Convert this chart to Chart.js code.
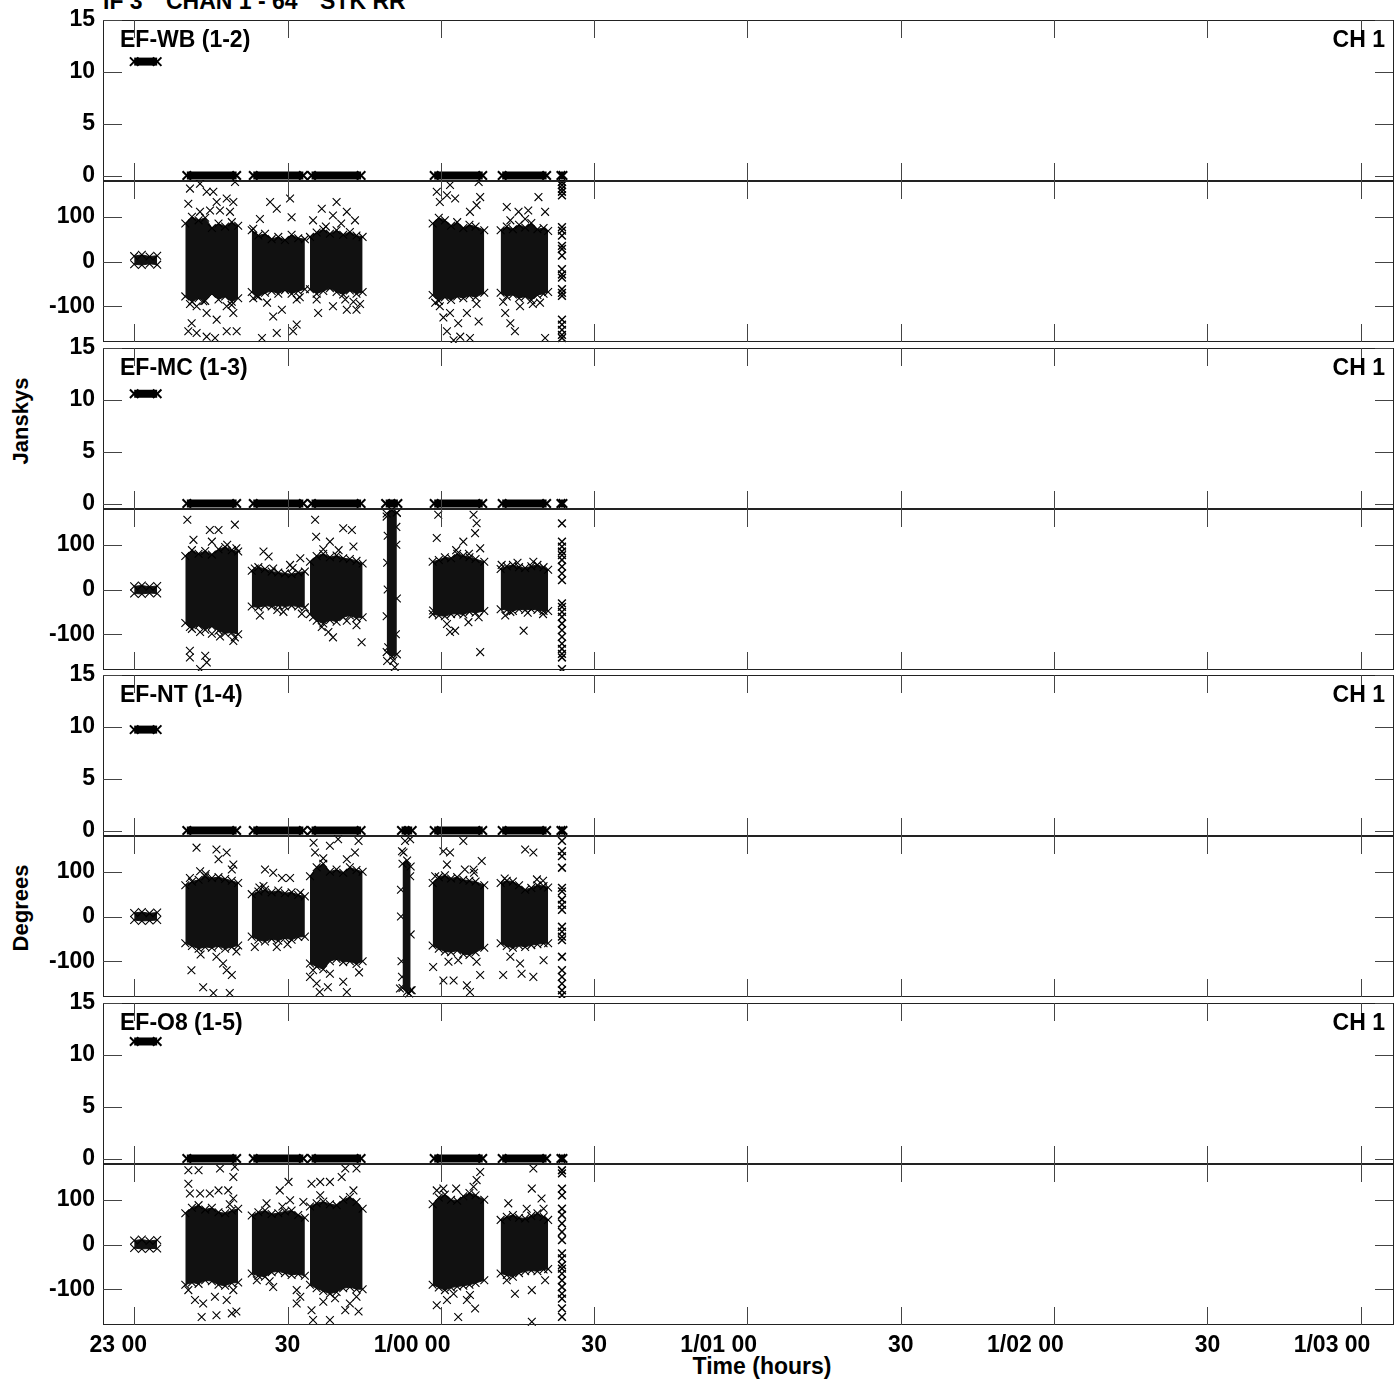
<!DOCTYPE html>
<html><head><meta charset="utf-8">
<script src="https://cdn.jsdelivr.net/npm/chart.js@4.4.1/dist/chart.umd.min.js"></script>
<style>
html,body{margin:0;padding:0;background:#fff;}
body{width:1394px;height:1382px;position:relative;overflow:hidden;font-family:"Liberation Sans",Arial,sans-serif;color:#000;}
canvas{position:absolute;left:0;}
.t{position:absolute;white-space:pre;font-size:23px;line-height:23px;font-weight:bold;}
.v{position:absolute;white-space:pre;font-size:22px;line-height:22px;font-weight:bold;transform:translate(-50%,-50%) rotate(-90deg);}
</style></head><body>
<div class="t" style="left:103px;top:-10px">IF 3</div>
<div class="t" style="left:166px;top:-10px">CHAN 1 - 64</div>
<div class="t" style="left:320px;top:-10px">STK RR</div>
<div class="v" style="left:21px;top:421px">Janskys</div>
<div class="v" style="left:21px;top:908px">Degrees</div>
<div class="t" style="left:762px;top:1355px;transform:translateX(-50%)">Time (hours)</div>
<script>
// ---------- axes / labels ----------
const baselineNames = ['EF-WB (1-2)', 'EF-MC (1-3)', 'EF-NT (1-4)', 'EF-O8 (1-5)'];
const channelLabel = 'CH 1';
const xTickValues = [0, 30, 60, 90, 120, 150, 180, 210, 240];   // minutes after 23:00
const xTickLabels = ['23 00', '30', '1/00 00', '30', '1/01 00', '30', '1/02 00', '30', '1/03 00'];
const ampTicks = [0, 5, 10, 15];
const phaseTicks = [-100, 0, 100];

// ---------- times (min after 23:00) of the envelope of each scan's dense phase cloud ----------
const envCal = [0, 1.5, 3, 4.5];
const envA = [10.0, 11.3, 12.6, 13.9, 15.2, 16.5, 17.8, 19.1, 20.35];
const envB = [23.0, 24.3, 25.6, 26.9, 28.2, 29.5, 30.8, 32.1, 33.4];
const envC = [34.4, 35.7, 37.0, 38.3, 39.6, 40.9, 42.2, 43.5, 44.7];
const envE = [58.4, 59.6, 60.8, 62.0, 63.2, 64.4, 65.6, 66.8, 68.5];
const envF = [71.7, 72.9, 74.1, 75.3, 76.5, 77.7, 78.9, 80.1, 81.0];
const envD_MC = [49.4, 50.4, 51.4];
const envD_NT = [52.5, 53.4, 54.1];

// ---------- EF-WB (1-2) ----------
const wbScanStart = [0, 10.3, 23.3, 34.7, 58.7, 72.0, 83.5];
const wbScanEnd   = [4.5, 20.05, 33.1, 44.4, 68.2, 80.7, 83.9];
const wbScanAmp   = [11.0, 0.05, 0.05, 0.05, 0.05, 0.05, 0.05];
const wbBandT  = [envCal, envA, envB, envC, envE, envF];
const wbBandHi = [[12,15,11,13],[85,100,92,98,75,85,78,88,80],[70,58,62,50,55,48,60,52,50],[55,65,72,62,70,60,66,58,55],[85,98,92,80,88,75,82,78,70],[70,78,72,82,76,86,72,75,68]];
const wbBandLo = [[-6,-8,-5,-7],[-78,-90,-82,-88,-72,-85,-78,-90,-82],[-68,-78,-70,-66,-72,-64,-72,-66,-62],[-62,-72,-66,-60,-68,-74,-65,-72,-68],[-75,-88,-80,-86,-78,-82,-76,-80,-70],[-70,-78,-74,-82,-78,-86,-75,-72,-68]];
const wbOutliers = [[10.92,163],[12.88,174],[14.18,156],[15.49,156],[10.59,129],[16.14,133],[18.1,141],[19.4,133],[12.88,111],[14.84,114],[16.79,114],[18.75,111],[19.73,178],[10.92,-95],[12.22,-100],[14.18,-115],[16.14,-130],[18.1,-100],[19.4,-115],[10.59,-156],[12.22,-160],[14.18,-168],[15.82,-171],[18.1,-156],[20.05,-156],[11.25,-138],[19.07,-97],[13.53,-89],
 [26.6,133],[30.5,141],[24.6,95],[23.3,73],[27.9,118],[30.8,99],[24.0,-77],[26.0,-92],[28.9,-108],[31.8,-85],[27.2,-123],[25.0,-171],[27.9,-160],[31.1,-156],[32.4,-80],[23.3,-82],[31.8,-141],
 [39.6,133],[36.7,118],[38.9,103],[41.6,111],[43.2,92],[35.0,92],[36.0,-115],[38.9,-100],[41.6,-108],[43.5,-108],[41.3,-85],[42.9,-90],[35.7,-85],[44.2,-95],[37.5,78],[40.5,85],
 [61.8,171],[61.2,148],[62.8,141],[59.8,133],[67.4,178],[67.7,144],[67.0,126],[65.7,111],[59.2,156],[59.8,-100],[61.8,-115],[63.4,-138],[65.1,-115],[67.4,-134],[63.8,-168],[65.7,-171],[61.2,-156],[67.0,-95],[58.9,-92],[62.5,-176],[60.5,-125],
 [72.9,122],[75.2,111],[77.1,114],[79.1,144],[80.4,111],[73.6,92],[72.6,-115],[73.6,-138],[74.5,-156],[75.5,-100],[79.4,-92],[80.4,-171],[72.2,-90],[76.5,95],[78.0,-95]];
const wbColumnT = 83.7;
const wbColumnPh = [178,171,163,156,148,77,69,58,35,28,13,-17,-29,-36,-62,-70,-77,-130,-141,-153,-164,-171];

// ---------- EF-MC (1-3) ----------
const mcScanStart = [0, 10.3, 23.3, 34.7, 49.2, 58.7, 72.0, 83.5];
const mcScanEnd   = [4.5, 20.05, 33.1, 44.4, 51.6, 68.2, 80.7, 83.9];
const mcScanAmp   = [10.6, 0.05, 0.05, 0.05, 0.05, 0.05, 0.05, 0.05];
const mcBandT  = [envCal, envA, envB, envC, envD_MC, envE, envF];
const mcBandHi = [[7,9,6,8],[75,88,80,86,78,90,95,88,85],[42,50,46,40,38,36,34,38,40],[62,75,80,72,76,70,68,64,58],[170,178,172],[62,66,72,70,80,76,72,68,62],[46,52,55,50,48,52,55,50,44]];
const mcBandLo = [[-9,-10,-8,-9],[-75,-88,-80,-90,-82,-92,-98,-96,-100],[-38,-40,-36,-38,-35,-38,-36,-38,-40],[-55,-70,-76,-68,-72,-62,-58,-64,-62],[-140,-150,-145],[-55,-58,-60,-55,-54,-56,-50,-52,-48],[-44,-46,-48,-44,-46,-44,-46,-48,-48]];
const mcOutliers = [[10.4,156],[11.6,111],[14.8,133],[16.5,133],[19.7,145],[15.2,107],[10.9,-84],[12.9,-95],[15.2,-99],[10.9,-137],[10.9,-152],[13.9,-148],[14.2,-163],[12.9,-178],[16.8,-105],[19.7,-107],[19.4,-115],[18.2,100],[20.0,92],
 [25.3,85],[26.3,74],[30.5,55],[32.5,70],[23.6,47],[27.2,47],[24.6,-58],[29.2,-50],[32.8,-54],[28.0,-46],[31.0,48],
 [35.4,156],[35.6,118],[40.9,137],[42.6,133],[38.3,107],[42.9,96],[38.0,-95],[38.9,-107],[43.5,-80],[44.5,-118],[35.0,-62],[41.6,-70],[36.7,-84],[37.0,90],[40.0,88],
 [49.4,163],[51.4,171],[49.7,-129],[50.7,-159],[51.0,-174],[49.6,120],[51.3,100],[49.5,60],[51.4,-20],[49.4,-60],[51.2,-100],[49.6,0],[51.3,140],[49.5,-160],
 [59.5,167],[59.2,115],[64.4,107],[66.4,167],[67.0,148],[66.7,126],[67.7,92],[61.2,-77],[61.8,-95],[62.8,-92],[65.4,-73],[67.4,-62],[67.7,-140],[58.5,-47],[63.0,88],[65.5,80],
 [72.6,-58],[76.2,-92],[73.6,-50],[78.1,62],[71.9,55],[75.0,60],[80.0,-55],[77.0,-52]];
const mcColumnT = 83.7;
const mcColumnPh = [148,107,96,85,77,66,51,36,21,-31,-39,-50,-61,-76,-91,-106,-121,-133,-144,-152,-178];

// ---------- EF-NT (1-4) ----------
const ntScanStart = [0, 10.3, 23.3, 34.7, 52.3, 58.7, 72.0, 83.5];
const ntScanEnd   = [4.5, 20.05, 33.1, 44.4, 54.4, 68.2, 80.7, 83.9];
const ntScanAmp   = [9.75, 0.05, 0.05, 0.05, 0.05, 0.05, 0.05, 0.05];
const ntBandT  = [envCal, envA, envB, envC, envD_NT, envE, envF];
const ntBandHi = [[8,10,7,9],[70,78,82,90,86,88,84,80,75],[50,56,60,54,58,52,54,48,45],[90,110,118,100,105,98,110,104,100],[118,125,112],[75,88,92,85,88,82,80,78,70],[75,80,78,70,60,64,70,68,65]];
const ntBandLo = [[-8,-10,-9,-8],[-60,-66,-72,-68,-70,-66,-72,-68,-65],[-45,-52,-56,-50,-54,-48,-52,-46,-45],[-105,-112,-118,-100,-95,-102,-100,-106,-100],[-160,-168,-165],[-65,-72,-78,-80,-76,-84,-86,-80,-70],[-60,-66,-70,-65,-68,-64,-62,-60,-60]];
const ntOutliers = [[12.2,154],[16.1,150],[18.1,143],[16.5,128],[19.4,116],[19.1,105],[12.9,101],[10.9,86],[16.1,-90],[17.4,-105],[18.1,-120],[19.1,-131],[11.2,-120],[13.5,-158],[15.5,-171],[18.7,-171],[20.0,-78],[14.0,95],[13.0,-85],
 [25.6,105],[27.2,98],[28.9,86],[30.5,86],[23.6,-68],[27.9,-68],[25.3,68],[32.5,53],[30.0,-62],[24.5,65],
 [35.1,165],[35.4,143],[38.3,158],[39.9,173],[43.9,169],[41.6,128],[43.2,143],[34.4,-135],[35.7,-150],[36.3,-169],[37.9,-158],[40.9,-146],[41.6,-169],[38.3,-128],[35.0,-120],[44.0,-125],[37.0,130],
 [53.0,169],[54.0,173],[52.4,146],[52.7,143],[52.0,-161],[54.3,-165],[52.4,-135],[53.8,-172],[52.2,60],[54.1,-40],[52.3,-100],[54.0,90],[52.2,0],
 [60.5,146],[61.8,143],[64.4,169],[61.2,116],[64.7,105],[66.4,105],[68.0,124],[58.9,90],[58.5,-113],[60.5,-143],[62.5,-143],[61.5,-101],[63.4,-98],[65.1,-154],[65.7,-169],[67.7,-131],[67.0,-101],[66.5,98],
 [76.5,150],[78.1,143],[78.8,83],[73.6,-90],[75.5,-105],[75.8,-128],[78.1,-135],[80.1,-98],[72.2,-131],[80.0,80],[72.5,85]];
const ntColumnT = 83.7;
const ntColumnPh = [169,146,135,109,64,56,38,26,15,-23,-34,-45,-53,-90,-120,-135,-150,-165,-176];

// ---------- EF-O8 (1-5) ----------
const o8ScanStart = [0, 10.3, 23.3, 34.7, 58.7, 72.0, 83.5];
const o8ScanEnd   = [4.5, 20.05, 33.1, 44.4, 68.2, 80.7, 83.9];
const o8ScanAmp   = [11.3, 0.05, 0.05, 0.05, 0.05, 0.05, 0.05];
const o8BandT  = [envCal, envA, envB, envC, envE, envF];
const o8BandHi = [[9,11,8,10],[70,82,88,78,82,72,70,76,80],[65,72,76,68,70,74,76,66,60],[85,92,96,90,88,100,106,95,80],[90,105,112,100,98,108,115,110,100],[55,62,66,60,58,64,70,62,55]];
const o8BandLo = [[-8,-10,-9,-9],[-90,-85,-88,-80,-82,-90,-92,-86,-85],[-65,-70,-72,-62,-60,-64,-68,-66,-70],[-90,-98,-104,-110,-106,-98,-95,-100,-100],[-90,-96,-102,-96,-94,-92,-90,-86,-80],[-65,-68,-72,-64,-60,-58,-60,-56,-55]];
const o8Outliers = [[10.6,166],[12.6,166],[16.8,170],[19.7,174],[19.4,151],[10.6,136],[10.9,114],[12.9,114],[14.8,114],[16.5,121],[18.4,121],[19.4,103],[18.7,90],[10.6,-102],[11.9,-124],[13.5,-132],[15.8,-117],[18.1,-124],[19.4,-102],[13.2,-162],[16.1,-158],[19.1,-154],[20.0,-150],
 [30.2,140],[28.5,121],[30.5,99],[25.9,92],[33.1,95],[24.0,-80],[27.2,-95],[31.8,-102],[32.5,-117],[31.8,-132],[29.0,85],[26.5,-82],
 [34.7,136],[36.4,140],[38.3,140],[40.6,151],[41.3,170],[43.5,170],[42.9,121],[36.4,110],[34.7,-147],[35.0,-169],[38.3,-169],[37.0,-128],[39.3,-120],[41.3,-147],[42.2,-132],[43.9,-150],[43.5,-117],
 [59.2,121],[60.5,125],[67.0,144],[67.7,162],[66.4,129],[59.2,-136],[61.2,-124],[63.4,-162],[65.1,-124],[65.7,-113],[66.7,-143],[62.5,-110],[63.0,125],
 [73.2,92],[76.8,80],[80.1,80],[78.1,170],[77.8,125],[79.7,103],[74.5,-110],[77.8,-102],[77.8,-173],[80.4,-80],[72.9,-80]];
const o8ColumnT = 83.7;
const o8ColumnPh = [166,159,125,110,80,66,47,28,10,-20,-31,-46,-54,-65,-80,-95,-110,-121,-143,-162];

// ---------- layout ----------
const X_MIN = -6.1, X_MAX = 246.3;
const AMP_MIN = -0.48, AMP_MAX = 15, PH_MIN = -180, PH_MAX = 180;
const blockTops = [20, 348, 675, 1003];
const AMP_H = 161, PH_H = 161, PAD = 16, XAXIS_H = 60;
const FONT = '"Liberation Sans", Arial, sans-serif';
const TICK_SIZE = 23;

const mctx = document.createElement('canvas').getContext('2d');
mctx.font = 'bold ' + TICK_SIZE + 'px ' + FONT;
function padLabel(lbl) {
  const pre = lbl.slice(0, -2);
  if (!pre) return lbl;
  const n = Math.round(mctx.measureText(pre).width / mctx.measureText(' ').width + (pre.length > 3 ? 1.4 : 0));
  return lbl + ' '.repeat(n);
}
function zeroPad(s) { s.paddingLeft = 0; s.paddingRight = 0; s.paddingTop = 0; s.paddingBottom = 0; }

const framePlugin = {
  id: 'frame',
  afterDatasetsDraw(chart) {
    const { ctx, chartArea: a, scales } = chart;
    ctx.save();
    ctx.strokeStyle = '#222'; ctx.lineWidth = 1;
    ctx.strokeRect(a.left + 0.5, a.top + 0.5, a.right - a.left, a.bottom - a.top - 1);
    ctx.strokeStyle = '#444';
    ctx.beginPath();
    xTickValues.forEach(v => {
      const px = Math.round(scales.x.getPixelForValue(v)) + 0.5;
      ctx.moveTo(px, a.top); ctx.lineTo(px, a.top + 18);
      ctx.moveTo(px, a.bottom); ctx.lineTo(px, a.bottom - 18);
    });
    scales.y.ticks.forEach(t => {
      const py = Math.round(scales.y.getPixelForValue(t.value)) + 0.5;
      ctx.moveTo(a.left, py); ctx.lineTo(a.left + 19, py);
      ctx.moveTo(a.right, py); ctx.lineTo(a.right - 18, py);
    });
    ctx.stroke();
    ctx.restore();
  }
};

const cross = { pointStyle: 'crossRot', pointRadius: 5.5, pointBorderColor: '#000', pointBorderWidth: 1.1, pointBackgroundColor: '#000' };

function ampDatasets(starts, ends, amps) {
  return starts.map((s, i) => Object.assign({
    data: [{ x: s, y: amps[i] }, { x: ends[i], y: amps[i] }],
    showLine: true, borderColor: '#000', borderWidth: 8, fill: false, clip: 1
  }, cross, { pointRadius: 6, pointBorderWidth: 2 }));
}
function phaseDatasets(bandT, bandHi, bandLo, outliers, colT, colPh) {
  const ds = [];
  bandT.forEach((ts, i) => {
    ds.push(Object.assign({ data: ts.map((t, j) => ({ x: t, y: bandHi[i][j] })), showLine: true, borderColor: '#111', borderWidth: 1, backgroundColor: '#111', fill: '+1', clip: 1 }, cross));
    ds.push(Object.assign({ data: ts.map((t, j) => ({ x: t, y: bandLo[i][j] })), showLine: true, borderColor: '#111', borderWidth: 1, fill: false, clip: 1 }, cross));
  });
  ds.push(Object.assign({ data: outliers.map(p => ({ x: p[0], y: p[1] })), showLine: false, fill: false, clip: 1 }, cross));
  ds.push(Object.assign({ data: colPh.map(v => ({ x: colT, y: v })), showLine: false, fill: false, clip: 1 }, cross, { pointBorderWidth: 1.5 }));
  return ds;
}

function makePanel(top, height, isBottom, yMin, yMax, yTicks, datasets) {
  const c = document.createElement('canvas');
  const below = isBottom ? XAXIS_H : PAD;
  let H = height + PAD + below;
  c.width = 1394; c.height = H;
  c.style.top = (top - PAD) + 'px';
  c.style.width = '1394px'; c.style.height = H + 'px';
  document.body.appendChild(c);
  const tickFont = { family: FONT, size: TICK_SIZE, weight: 'bold' };
  const chart = new Chart(c, {
    type: 'line',
    data: { datasets },
    plugins: [framePlugin],
    options: {
      responsive: false, animation: false, events: [],
      layout: { autoPadding: false, padding: { top: PAD, bottom: isBottom ? 0 : PAD, left: 0, right: 1 } },
      plugins: { legend: { display: false }, tooltip: { enabled: false } },
      elements: { line: { tension: 0 } },
      scales: {
        x: {
          type: 'linear', min: X_MIN, max: X_MAX, display: isBottom,
          grid: { display: false, drawTicks: false }, border: { display: false },
          afterBuildTicks: s => { s.ticks = xTickValues.map(v => ({ value: v })); },
          afterFit: s => { s.height = isBottom ? XAXIS_H : 0; zeroPad(s); },
          ticks: { autoSkip: false, maxRotation: 0, minRotation: 0, padding: 7, color: '#000', font: tickFont,
            callback: v => padLabel(xTickLabels[xTickValues.indexOf(v)] || '') }
        },
        y: {
          type: 'linear', min: yMin, max: yMax, position: 'left',
          grid: { display: false, drawTicks: false }, border: { display: false },
          afterBuildTicks: s => { s.ticks = yTicks.map(v => ({ value: v })); },
          afterFit: s => { s.width = 103; zeroPad(s); },
          ticks: { padding: 8, color: '#000', font: tickFont, autoSkip: false }
        }
      }
    }
  });
  for (let k = 0; k < 2; k++) {
    const a = chart.chartArea;
    const dh = height - (a.bottom - a.top);
    if (Math.abs(dh) < 0.5) break;
    H += dh;
    chart.resize(1394, H);
  }
  c.style.top = (top - chart.chartArea.top) + 'px';
}

function addLabels(top, name) {
  const l = document.createElement('div');
  l.className = 't'; l.textContent = name;
  l.style.left = '120px'; l.style.top = (top + 8) + 'px';
  document.body.appendChild(l);
  const r = document.createElement('div');
  r.className = 't'; r.textContent = channelLabel;
  r.style.right = '9px'; r.style.top = (top + 8) + 'px';
  document.body.appendChild(r);
}

const panels = [
  [wbScanStart, wbScanEnd, wbScanAmp, wbBandT, wbBandHi, wbBandLo, wbOutliers, wbColumnT, wbColumnPh],
  [mcScanStart, mcScanEnd, mcScanAmp, mcBandT, mcBandHi, mcBandLo, mcOutliers, mcColumnT, mcColumnPh],
  [ntScanStart, ntScanEnd, ntScanAmp, ntBandT, ntBandHi, ntBandLo, ntOutliers, ntColumnT, ntColumnPh],
  [o8ScanStart, o8ScanEnd, o8ScanAmp, o8BandT, o8BandHi, o8BandLo, o8Outliers, o8ColumnT, o8ColumnPh]
];
panels.forEach((p, i) => {
  const B = blockTops[i];
  makePanel(B, AMP_H, false, AMP_MIN, AMP_MAX, ampTicks, ampDatasets(p[0], p[1], p[2]));
  makePanel(B + AMP_H, PH_H, i === panels.length - 1, PH_MIN, PH_MAX, phaseTicks, phaseDatasets(p[3], p[4], p[5], p[6], p[7], p[8]));
  addLabels(B, baselineNames[i]);
});
</script>
</body></html>
